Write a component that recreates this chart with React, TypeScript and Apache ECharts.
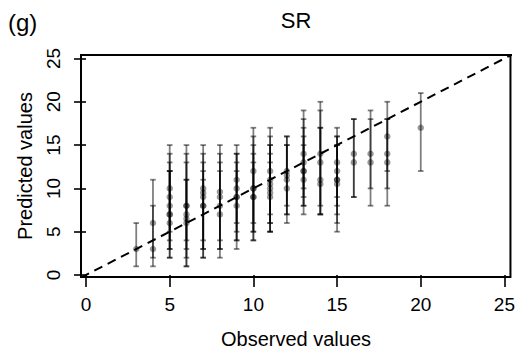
import React, { useEffect, useRef } from "react";
import * as echarts from "echarts";

// Observed value, predicted value, lower / upper prediction interval
const obsX = [
  3,
  4, 4,
  5, 5, 5, 5, 5, 5,
  6, 6, 6, 6, 6,
  7, 7, 7, 7, 7,
  8, 8, 8, 8,
  9, 9, 9, 9, 9,
  10, 10, 10, 10, 10,
  11, 11, 11, 11, 11, 11,
  12, 12, 12, 12,
  13, 13, 13, 13, 13,
  14, 14, 14, 14,
  15, 15, 15, 15, 15,
  16, 16,
  17, 17,
  18, 18, 18,
  20,
];
const predY = [
  3,
  6, 3,
  10, 9, 8, 7, 7, 6,
  8, 8, 7, 6.5, 6,
  10, 9.5, 9, 8, 8,
  9.6, 9, 8, 7,
  11, 10, 9, 9, 8,
  12, 10, 10, 9, 9,
  12, 11, 10.5, 10, 9.5, 9,
  12, 11.5, 11, 10,
  14, 13, 12, 11, 12,
  14, 13, 11, 10.5,
  13, 12, 11, 11, 10.5,
  14, 13,
  14, 13,
  16, 14, 13,
  17,
];
const lowerPI = [
  1,
  2, 1,
  5, 4, 3, 2, 3, 2,
  3, 4, 2, 1, 1,
  4, 3, 3, 2, 2,
  4, 3, 3, 2,
  6, 5, 4, 4, 3,
  6, 5, 5, 4, 4,
  7, 6, 6, 5, 5, 5,
  8, 7, 7, 6,
  10, 9, 8, 7, 8,
  8, 7, 7, 7,
  9, 8, 6, 7, 5,
  9, 9,
  10, 8,
  8, 10, 12,
  12,
];
const upperPI = [
  6,
  11, 8,
  15, 14, 13, 12, 12, 12,
  15, 13, 11, 14, 11,
  15, 14, 13, 12, 11,
  15, 14, 13, 12,
  15, 14, 13, 14, 12,
  17, 16, 15, 14, 13,
  17, 16, 15, 15, 14, 13,
  16, 16, 15, 15,
  19, 18, 17, 16, 15,
  20, 19, 17, 17,
  17, 16, 15, 16, 15,
  18, 18,
  18, 19,
  20, 18, 18,
  21,
];
const tickValues = [0, 5, 10, 15, 20, 25];

const FONT = '"Liberation Sans", Arial, sans-serif';
const MARK = "rgba(0,0,0,0.5)";

export default function App() {
  const ref = useRef<HTMLDivElement>(null);
  useEffect(() => {
    if (!ref.current) return;
    const chart = echarts.init(ref.current, null, { renderer: "svg" });
    const barData = obsX.map((x, i) => [x, predY[i], lowerPI[i], upperPI[i]]);
    const pointData = obsX.map((x, i) => [x, predY[i]]);
    const axisCommon = {
      type: "value",
      axisLine: { show: false },
      splitLine: { show: false },
      axisTick: {
        show: true,
        length: 12,
        customValues: tickValues,
        lineStyle: { color: "#000", width: 1.6 },
      },
      axisLabel: {
        customValues: tickValues,
        color: "#000",
        fontSize: 19,
        fontFamily: FONT,
      },
    };
    chart.setOption({
      animation: false,
      backgroundColor: "#fff",
      grid: {
        left: 81,
        right: 6,
        top: 55,
        bottom: 79,
        show: true,
        borderColor: "#000",
        borderWidth: 2,
        backgroundColor: "transparent",
      },
      xAxis: {
        ...axisCommon,
        min: -0.3,
        max: 25.36,
        axisLabel: { ...axisCommon.axisLabel, margin: 18 },
      },
      yAxis: {
        ...axisCommon,
        min: -0.23,
        max: 25.4,
        axisLabel: { ...axisCommon.axisLabel, rotate: 90, margin: 18 },
      },
      graphic: [
        { type: "text", x: 8, y: 22, style: { text: "(g)", font: `24px ${FONT}`, fill: "#000", align: "left", verticalAlign: "middle" } },
        { type: "text", x: 296, y: 20, style: { text: "SR", font: `22px ${FONT}`, fill: "#000", align: "center", verticalAlign: "middle" } },
        { type: "text", x: 296, y: 339, style: { text: "Observed values", font: `20px ${FONT}`, fill: "#000", align: "center", verticalAlign: "middle" } },
        { type: "text", x: 25, y: 166, rotation: Math.PI / 2, style: { text: "Predicted values", font: `20px ${FONT}`, fill: "#000", align: "center", verticalAlign: "middle" } },
      ],
      series: [
        {
          type: "line",
          data: [[-0.3, -0.3], [25.5, 25.5]],
          showSymbol: false,
          silent: true,
          clip: true,
          lineStyle: { color: "#000", width: 2, type: [9, 6] },
          z: 5,
        },
        {
          type: "custom",
          data: barData,
          encode: { x: 0, y: [2, 3] },
          renderItem: (params: any, api: any) => {
            const x = api.value(0);
            const top = api.coord([x, api.value(3)]);
            const bot = api.coord([x, api.value(2)]);
            const hw = 2.8;
            const style = { stroke: MARK, lineWidth: 1.8 };
            return {
              type: "group",
              children: [
                { type: "line", shape: { x1: top[0], y1: top[1], x2: bot[0], y2: bot[1] }, style },
                { type: "line", shape: { x1: top[0] - hw, y1: top[1], x2: top[0] + hw, y2: top[1] }, style },
                { type: "line", shape: { x1: bot[0] - hw, y1: bot[1], x2: bot[0] + hw, y2: bot[1] }, style },
              ],
            };
          },
          z: 3,
        },
        {
          type: "scatter",
          data: pointData,
          symbol: "circle",
          symbolSize: 6.5,
          itemStyle: { color: "rgba(0,0,0,0.5)" },
          z: 4,
        },
      ],
    });
    return () => chart.dispose();
  }, []);
  return (
    <div
      ref={ref}
      style={{ position: "fixed", left: 0, top: 0, width: 518, height: 356 }}
    />
  );
}
